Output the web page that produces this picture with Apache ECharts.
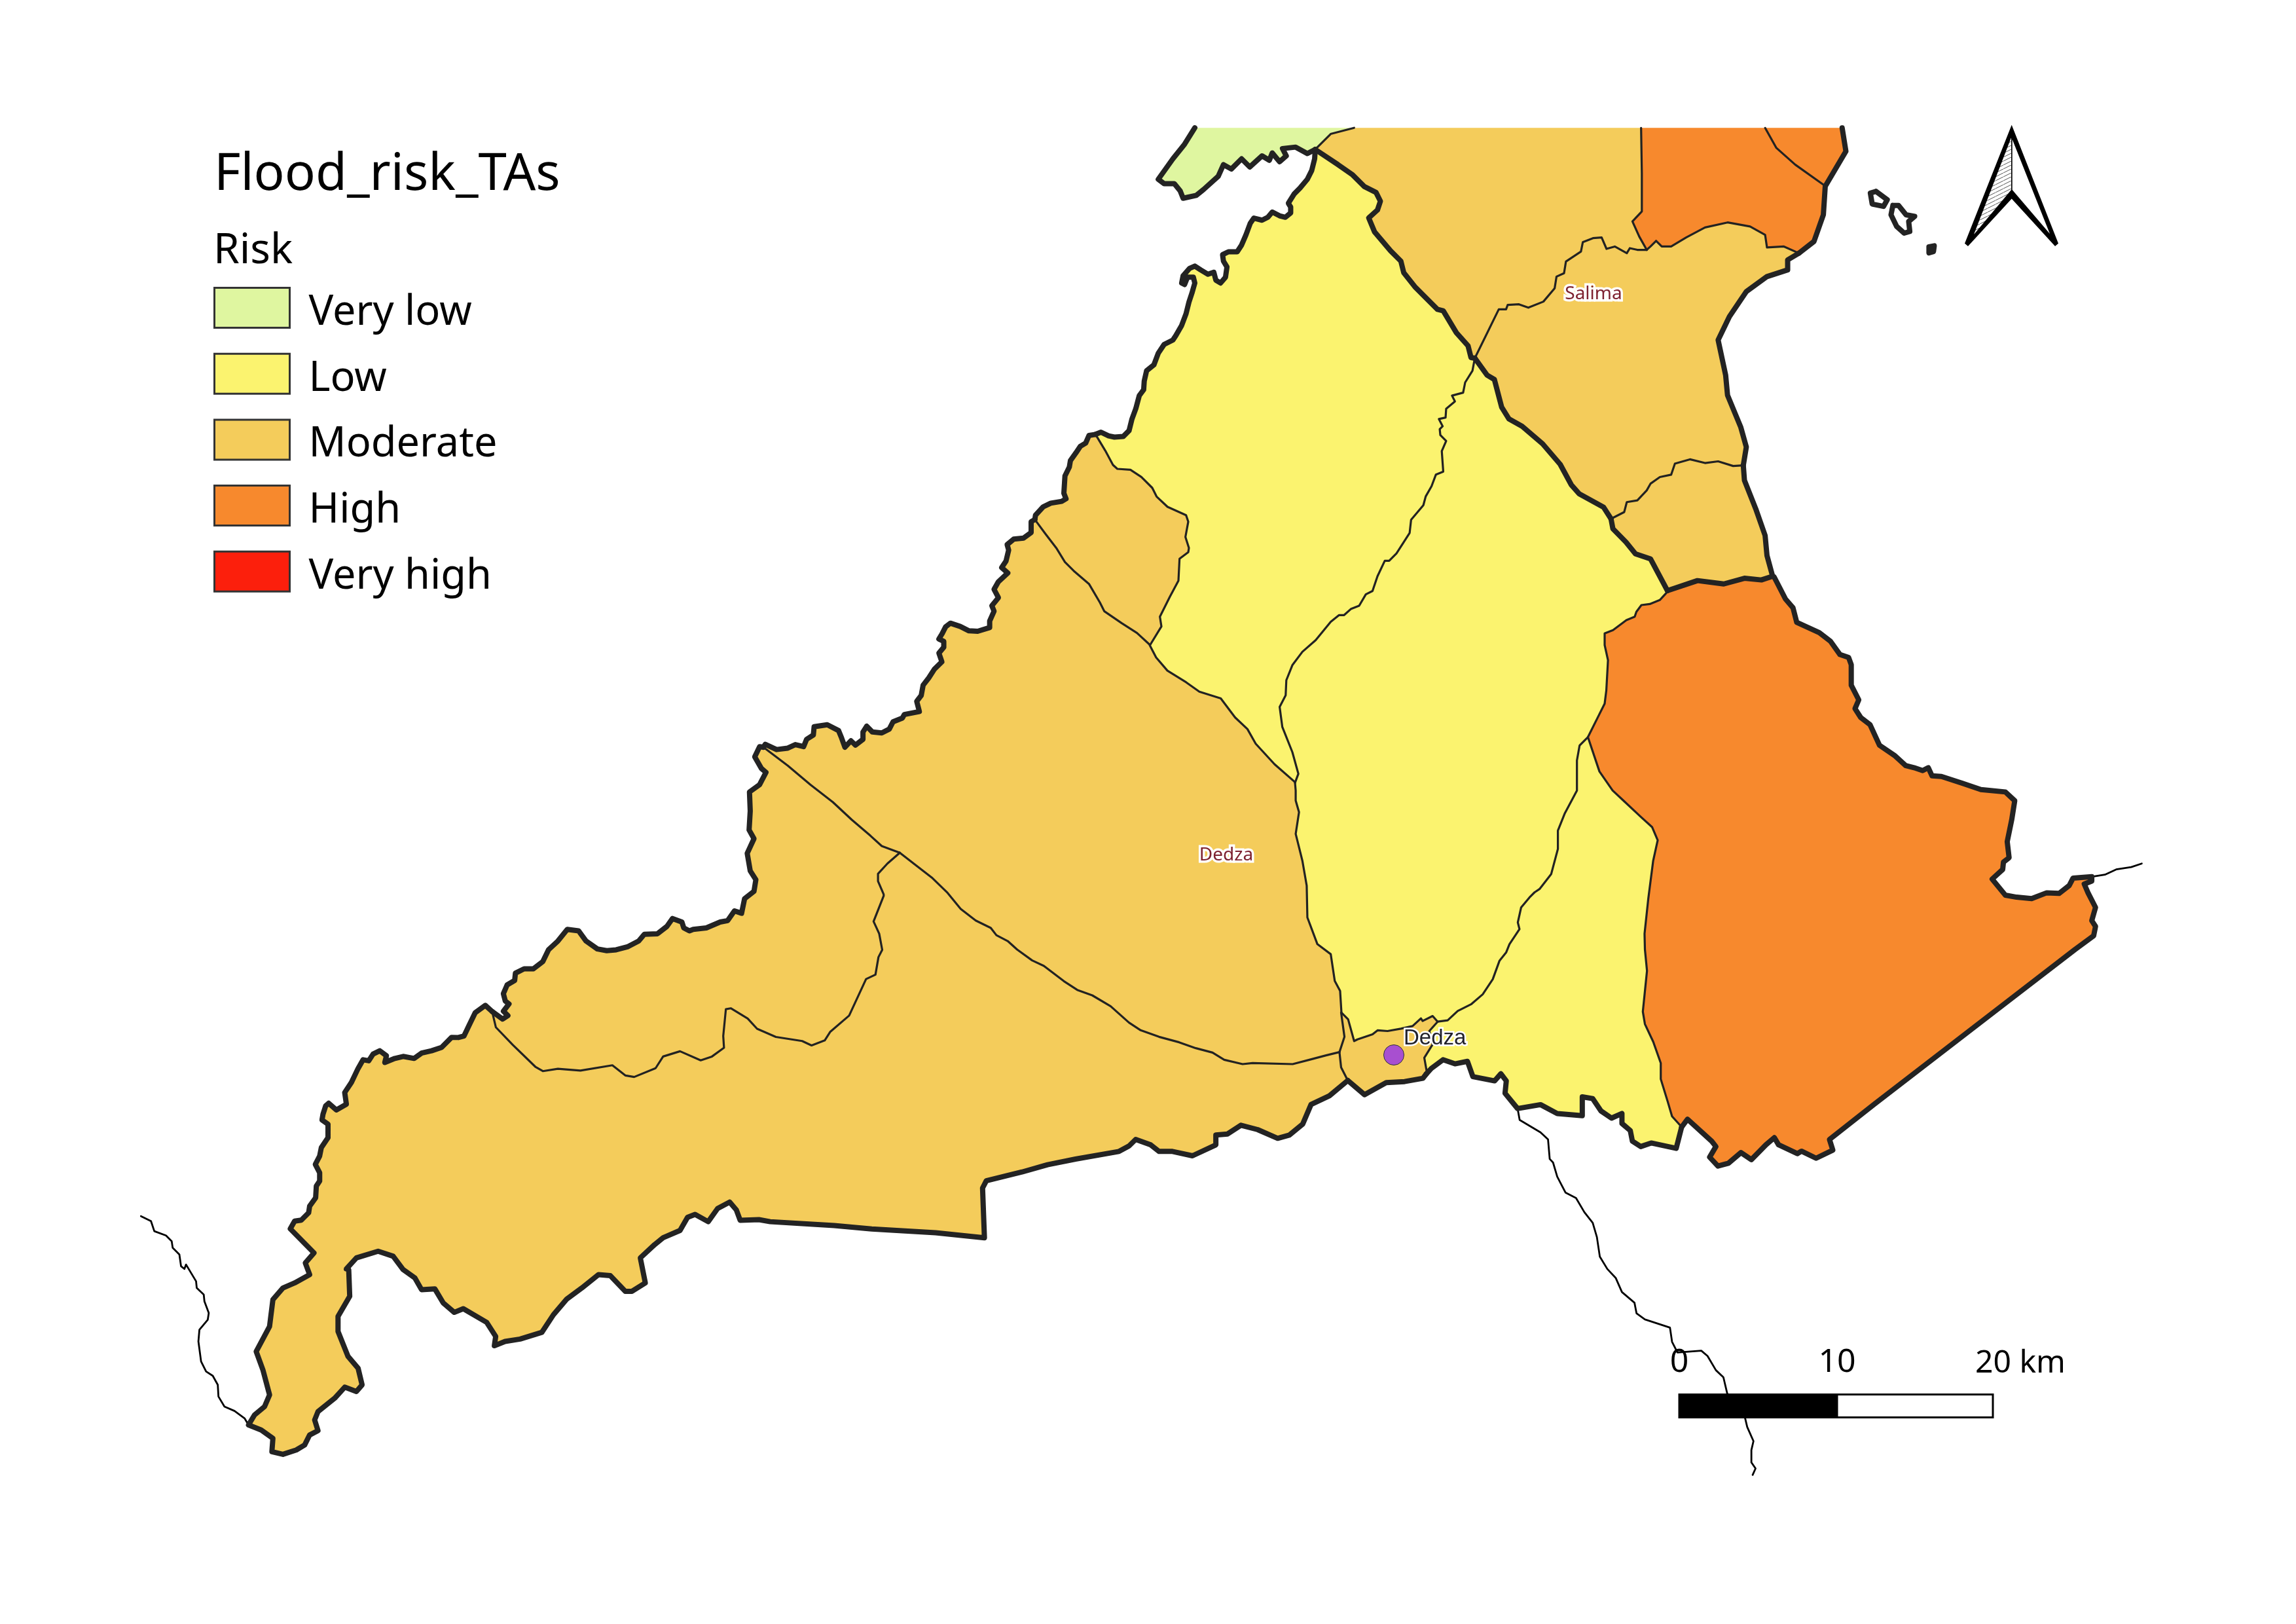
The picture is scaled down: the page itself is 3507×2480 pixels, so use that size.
<!DOCTYPE html>
<html><head><meta charset="utf-8">
<script src="https://cdn.jsdelivr.net/npm/echarts@6/dist/echarts.min.js"></script>
<style>html,body{margin:0;padding:0;background:#fff}#c{width:3507px;height:2480px}</style>
</head><body><div id="c"></div>
<script>
// ---- values ----
const riskLabels = ['Very low','Low','Moderate','High','Very high'];
const riskColors = ['#DFF6A0','#FBF36F','#F4CC5B','#F7892D','#FC1F0C'];
const regionNames = ['A','B','C','D','E','F','G','H','I','J','K','L','M','N'];
const regionRisk  = [1,3,4,3,3,2,3,2,2,4,3,3,3,3];
const placeNames = ['Salima','Dedza'];
const placeX = [2434,1873];
const placeY = [449,1306];
const townName = 'Dedza';
const townXY = [2129,1611];
const scaleTicks = ['0','10','20 km'];

// ---- map geometry (in sheet pixels) ----
const S = {
  a:[1700,180,2.24,2.24], b:[2300,180,1.742,1.96], c:[1100,850,1.742,2.24], d:[1900,850,1.96,1.96],
  e:[2400,850,1.742,2.24], f:[200,1500,1.96,1.96], g:[700,1350,1.742,2.24], h:[1500,1450,1.96,3],
  i:[2200,1450,1.568,1.8447], j:[1450,620,3,3]
};
const P = (k, f) => { const s=S[k], o=[]; for(let n=0;n<f.length;n+=2) o.push([s[0]+f[n]/s[2], s[1]+f[n+1]/s[3]]); return o; };
const R = a => a.slice().reverse();
const J = (...l) => [].concat(...l);

const greenCoast = P('a',[280,34,245,90,205,140,155,210,175,225,210,225,230,250,240,275,285,265,310,245,360,200,378,160,405,175,440,140,468,168,510,130,535,145,545,120,570,150,593,130,580,105,625,100,665,122,692,108]);
const coastA = J(P('a',[692,108,690,140,680,180,665,210,640,240,620,260,600,292,608,305,608,325,590,340,570,335,545,322,530,340,510,350,482,343,470,360,455,400,440,435,425,458,395,458,375,468,378,490,390,510,385,545,368,565,352,555,345,528,325,535,300,520,280,507,262,515,240,540,235,565,245,570,255,545,275,545,280,565,270,600,260,630,250,670,235,710,215,745,205,760,175,775,155,805,140,845,115,865,107,900,105,930,90,950,78,995,65,1030,55,1070,35,1090,5,1092]),
  P('j',[730,137,695,120,670,130]));
const coastB = P('j',[670,130,640,135,625,170,600,185,580,215,555,250,550,280,530,320,525,400,535,425,515,437,465,445,430,462,395,500,392,520]);
const coastC = J(P('j',[392,520,375,530,375,580,340,605,295,610,265,635,272,660,260,710,240,740,268,765,225,805,205,840,225,878,195,915,205,940,185,985,185,1015,130,1032,90,1030,50,1010,5,995]),
  P('c',[600,240,590,265,582,282,595,290,595,310,582,330,590,360,570,385,555,415,540,440,535,475,523,495,530,530,510,535,490,540,485,552,460,565,450,590,430,603,405,600,390,580,380,600,380,625,360,645,348,630,332,652,323,620,315,595,285,575,250,582,248,610,230,625,222,650,200,643,180,655,150,660,120,642,115,652]));
const coastD = J(P('c',[115,652,105,650,92,685,110,725,122,738,105,780,78,805,80,870,77,935,90,965,72,1015,80,1075,95,1105,90,1145,65,1170,57,1220,38,1212,20,1245,0,1250]),
  P('g',[660,150,625,155,615,160,600,150,595,130,570,118,555,145,530,170,495,172,480,195,450,215,420,225,395,228,370,222,340,195,320,160,290,155,265,195,240,225,225,265,200,290,175,290,152,305,150,330,130,345,120,375,125,400,135,410,120,435,132,450,118,462,100,445,90,436]));
const coastE = J(P('g',[90,436,72,415,45,440,30,480,15,520,0,525]),
  P('f',[960,165,930,195,900,205,870,212,848,228,815,222,790,228,760,240,765,220,745,205,725,215,712,235,695,232,680,258,660,300,640,330,645,365,615,382,592,362,583,370,575,395,572,412,590,425,590,465,570,495,565,520,552,545,565,570,565,595,555,610,553,645,535,670,532,690,510,712,490,715,477,738,548,810,522,840,535,875,490,900,455,915,425,950,415,1030,375,1105,395,1160,415,1235,400,1270,370,1295,352,1325,390,1340,425,1365,422,1405,455,1413,495,1400,520,1385,535,1355,560,1342,550,1310,560,1285,610,1245,640,1212,675,1225,692,1205,680,1155,650,1120,620,1045,620,1000,655,940,652,860,645,858,675,825,740,805,785,820,815,860,850,885,870,920,910,918,935,960,968,988,995,977,1065,1018,1092,1060,1088,1088,1120,1075,1165,1068,1230,1048,1265,995,1305,948,1350,915,1400,875,1435,878,1480,925,1500,925,1540,900,1525,825,1568,785]),
  P('g',[545,1210,590,1185,610,1140,630,1130,665,1155,690,1110,722,1088,740,1115,750,1150,800,1148,830,1155,1000,1168,1100,1180,1270,1193,1400,1210,1395,1040,1405,1015,1500,985,1568,960]),
  P('h',[280,960,410,925,440,900,460,870,505,895,530,925,570,925,630,945,700,895,700,850,735,845,775,805,825,825,885,865,920,850,960,800,985,710,1040,670,1095,600]));
const coastF = P('h',[1095,600,1145,665,1210,610,1265,605,1320,590,1330,570]);
const coastG = J(P('h',[1330,570,1345,545,1380,505]),
  P('i',[35,322,65,315,78,358,130,370,145,350,158,370,155,405,185,448,240,437,280,462,340,468,340,415,365,420,385,455,410,475,435,462,435,490,455,510,460,540,480,555,505,545,565,560,578,500]));
const coastH = J(P('i',[578,500,592,478,650,540,660,555,645,585,665,610,690,602,720,572,745,592,780,550,800,530,810,550,855,575,865,568,900,588,940,565,932,535,1040,435,1360,145,1520,0]),
  P('e',[1390,1297,1395,1265,1385,1245,1395,1200,1375,1150,1365,1120,1385,1110,1385,1095,1335,1100,1325,1125,1298,1152,1265,1150,1225,1170,1185,1165,1155,1158,1120,1103,1148,1070,1150,1045,1165,1030,1160,975,1172,900,1180,835,1155,805,1090,797,1040,775,985,752,960,750,950,722,935,732,912,722,890,715,860,680,820,645,795,575,770,550,755,520,765,490,745,440,745,370,738,345,715,335,690,290,660,260,600,225,590,175,570,145,540,70]));
const coastI = P('b',[710,1372,695,1310,690,1250,665,1170,635,1085,632,1040]);
const coastJ = P('b',[632,1040,640,985,625,925,590,830,585,770,565,665,595,595,640,520,695,475,750,455,750,425,780,405]);
const coastK = P('b',[780,405,820,370,845,290,850,205,905,100,895,30]);
const T2a = P('a',[692,108,770,160,820,195,860,235,900,255,915,285,905,315,875,342,895,390,950,455,985,490,995,530,1035,580,1110,655,1130,660,1175,735,1215,780,1225,820,1238,822]);
const T2b = J(P('a',[1238,822,1280,880,1305,895,1330,990,1355,1030,1400,1055,1470,1115,1530,1185,1568,1255]),
  P('b',[195,1125,260,1165,280,1200]));
const T2c = P('b',[280,1200,285,1230,320,1270,345,1305,385,1320,430,1415]);
const T3 = P('b',[430,1415,510,1385,580,1395,635,1378,680,1383,710,1372]);
// thin boundaries
const tGreen = P('a',[692,108,745,55,825,34]);
const tM1O1 = P('b',[360,30,362,165,362,280,337,310,355,355,375,395]);
const tM1M2 = J(P('b',[375,395,350,395,330,390,322,405,290,385,268,392,255,358,232,360,205,372,200,400,160,430,155,465,135,475,130,510,100,550,60,568,35,558,5,560]),
  P('a',[1345,655,1320,655,1238,822]));
const tO1M2 = P('b',[780,405,740,385,695,388,690,350,650,325,590,313,530,328,480,358,440,385,415,385,400,368,385,385,375,395]);
const tOrangeInner = P('b',[690,30,720,90,770,140,845,200]);
const tM2M3 = P('b',[280,1200,315,1180,322,1150,350,1145,375,1115,385,1095,410,1075,440,1068,450,1035,490,1022,530,1033,565,1028,605,1042,632,1040]);
const tL1N = P('j',[670,130,715,205,750,270,770,288,830,292,880,325,930,375,950,415,1000,462,1085,500,1095,530,1082,600,1098,650,1095,670,1055,700,1050,800,1010,875,965,965,972,1010,920,1095]);
const tJmJc = P('j',[392,520,440,585,490,650,530,715,570,755,640,815,690,900,710,940,790,995,860,1040,920,1095]);
const tJcJd = P('c',[1143,303,1160,345,1190,390,1240,430,1275,462,1332,485,1370,550,1403,590,1425,640,1475,710,1530,772]);
const tL1L2 = J(P('a',[1238,822,1230,865,1205,905,1198,940,1160,950,1170,970,1140,995,1138,1025,1115,1030,1128,1055,1118,1065,1120,1085,1140,1105,1125,1140,1130,1210,1105,1220,1090,1260,1070,1295,1062,1325,1020,1375,1015,1420,970,1490,945,1515,930,1515,905,1568]),
  P('d',[385,103,365,113,345,147,320,157,300,175,285,175,260,195,215,250,175,285,145,325,127,370,125,415,107,450,115,510,145,585,163,650,153,677]));
const tJsJl = P('d',[1268,105,1245,130,1215,142,1190,145,1175,165,1170,180,1145,190,1105,220,1080,230,1080,265,1090,310,1085,400,1080,440,1060,480,1030,540]);
const tL2L3 = P('d',[1030,540,1005,565,997,610,997,700,960,770,940,820,940,875,920,950,885,995,870,1005,855,1020,830,1050,820,1095,825,1115,795,1160,785,1185,765,1210,745,1265,715,1310,680,1340,640,1360,610,1388,580,1392]);
const tTownTop = P('d',[580,1392,565,1375,535,1390,530,1382,505,1405,470,1413,430,1420,400,1418,385,1430,340,1445,330,1450,312,1385,292,1365]);
const tL2W = P('d',[153,677,155,700,155,730,165,765,155,830,175,910,188,985,190,1080,220,1160,260,1190,272,1270,288,1300,292,1365]);
const tTownE = P('d',[580,1392,555,1420,565,1460,540,1500,548,1545]);
const tTownW1 = P('h',[1075,289,1085,400,1070,470]);
const tTownW2 = P('h',[1070,470,1075,540,1095,600]);
const tM5S = J(P('h',[1070,470,1030,485,980,505,930,525,810,520,780,525,725,505,690,472,640,452,590,425,530,400,475,370,440,335,385,260,330,210,285,185,245,145,185,75,150,50,105,0]),
  P('c',[765,1315,735,1295,720,1270,680,1245,640,1205,605,1150,565,1100,515,1050,478,1013]));
const tJyJw = P('c',[478,1013,430,990,400,955,350,900,300,840,240,780,180,715,115,652]);
const tJ8Jy = J(P('g',[90,436,100,490,145,550,205,625,225,640,265,632,325,638,410,620,445,655,468,660,525,630,545,590,590,572,645,603,675,590,707,560,705,520,712,428,725,425,770,460,795,495,845,523,915,537,940,552,975,535,990,505,1040,450,1085,325,1110,310,1118,250,1128,225,1120,170,1105,128,1132,40]),
  P('c',[435,1155,420,1110,420,1085,445,1050,478,1013]));
const tLO = J(P('e',[45,620,75,735,110,800,135,830,185,890,215,925,230,970,218,1040,205,1170,195,1290,196,1344]),
  P('i',[495,60,485,175,490,210,510,260,528,320,528,365,545,430,555,470,578,500]));
// drainage lines beyond the districts
const riverW = P('f',[30,700,60,715,70,745,105,758,122,775,125,795,145,815,150,850,160,858,165,845,195,895,197,915,218,935,220,955,233,990,230,1010,205,1040,202,1075,210,1135,225,1165,245,1178,260,1205,262,1240,280,1270,310,1283,340,1305,352,1325]);
const riverE = P('e',[1385,1095,1420,1088,1450,1070,1490,1062,1518,1050]);
const riverS = P('i',[185,448,190,480,240,515,258,535,262,590,270,600,280,640,300,685,325,700,345,740,365,770,375,810,382,865,400,900,420,925,435,965,465,995,470,1025,490,1042,550,1065,555,1105,568,1135,625,1130,640,1145,660,1185,678,1205,687,1250,700,1290,730,1320,735,1345,750,1385,745,1410,745,1445,755,1462,748,1480]);
const islands = [
  P('b',[985,220,1015,245,1005,265,975,258,970,225,985,220]),
  P('b',[1030,262,1045,262,1065,290,1088,295,1072,310,1075,340,1060,345,1040,325,1025,290,1030,262]),
  P('b',[1126,386,1140,383,1138,400,1126,404,1126,386])
];

const rings = {
  A: J(greenCoast, tGreen),
  B: J(tGreen, tM1O1, tM1M2, R(T2a)),
  C: J(tM1O1, R(tO1M2), coastK),
  D: J(tM1M2, T2b, tM2M3, coastJ, tO1M2),
  E: J(tM2M3, R(coastI), R(T3), R(T2c)),
  F: J(coastA, tL1N, tJcJd, R(tL1L2), R(T2a)),
  G: J(coastB, tJmJc, R(tL1N)),
  H: J(T2b, T2c, tJsJl, tL2L3, tTownTop, R(tL2W), R(tL1L2)),
  I: J(tL2L3, tTownE, coastG, R(tLO)),
  J: J(coastH, R(T3), tJsJl, tLO),
  K: J(R(tTownTop), tTownE, R(coastF), R(tTownW2), R(tTownW1)),
  L: J(coastC, R(tJyJw), R(tM5S), R(tTownW1), R(tL2W), R(tJcJd), R(tJmJc)),
  M: J(coastD, tJ8Jy, tJyJw),
  N: J(coastE, R(tTownW2), tM5S, R(tJ8Jy))
};
const flip = a => a.map(p => [p[0], -p[1]]);
echarts.registerMap('risk', { type:'FeatureCollection', features: regionNames.map(n => ({
  type:'Feature', properties:{name:n},
  geometry:{type:'Polygon', coordinates:[flip(J(rings[n], [rings[n][0]]))]}
}))});

const thick = [greenCoast,coastA,coastB,coastC,coastD,coastE,coastF,coastG,coastH,coastI,coastJ,coastK,T2a,T2b,T2c,T3].concat(islands);
const thin = [tGreen,tM1O1,tM1M2,tO1M2,tOrangeInner,tM2M3,tL1N,tJmJc,tJcJd,tL1L2,tJsJl,tL2L3,tTownTop,tL2W,tTownE,tTownW1,tTownW2,tM5S,tJyJw,tJ8Jy,tLO];
const rivers = [riverW,riverE,riverS];
const lineSeries = (list, width, color, z) => ({
  type:'lines', coordinateSystem:'geo', polyline:true, silent:true, z,
  lineStyle:{width, color, opacity:1, curveness:0, cap:'round', join:'round'},
  data:list.map(c => ({coords:flip(c)}))
});

const hatch = document.createElement('canvas'); hatch.width=12; hatch.height=6;
(()=>{const g=hatch.getContext('2d'); g.fillStyle='#fff'; g.fillRect(0,0,12,6); g.strokeStyle='#555'; g.lineWidth=1;
  g.beginPath(); g.moveTo(0,6); g.lineTo(12,0); g.stroke();})();

const font = '"Noto Sans"';
const chart = echarts.init(document.getElementById('c'), null, {renderer:'canvas', width:3507, height:2480});
chart.setOption({
  animation:false, backgroundColor:'#fff',
  title:[
    {text:'Flood_risk_TAs', left:327, top:229, padding:0, textStyle:{fontFamily:font, fontWeight:'normal', fontSize:78, color:'#000'}},
    {text:'Risk', left:326, top:352, padding:0, textStyle:{fontFamily:font, fontWeight:'normal', fontSize:64, color:'#000'}}
  ],
  legend:{
    left:326, top:438, orient:'vertical', padding:0, itemWidth:115, itemHeight:61, itemGap:29.2,
    icon:'rect', selectedMode:false, data:riskLabels,
    itemStyle:{borderColor:'#333', borderWidth:3, opacity:1},
    formatter:'{a|{name}}',
    textStyle:{fontFamily:font, fontSize:63, color:'#000', rich:{a:{fontFamily:font, fontSize:63, color:'#000', padding:[16,0,0,24]}}}
  },
  visualMap:{show:false, type:'piecewise', seriesIndex:0,
    pieces:riskLabels.map((l,i)=>({value:i+1,label:l,color:riskColors[i]}))},
  geo:{map:'risk', roam:false, silent:true, aspectScale:1,
    boundingCoords:[[0,0],[3507,-2480]], layoutCenter:['50%','50%'], layoutSize:3507,
    label:{show:false}, emphasis:{disabled:true}, select:{disabled:true},
    itemStyle:{borderWidth:0, borderColor:'transparent', areaColor:'#fff'}},
  series:[
    {type:'map', geoIndex:0, silent:true, data:regionNames.map((n,i)=>({name:n,value:regionRisk[i]}))},
    lineSeries(rivers,2.8,'#000',3),
    lineSeries(thin,3.2,'#222',4),
    lineSeries(thick,8,'#232323',5),
    ...riskLabels.map((l,i)=>({type:'scatter',coordinateSystem:'geo',name:l,data:[],itemStyle:{color:riskColors[i],opacity:1}})),
    {type:'scatter',coordinateSystem:'geo',silent:true,z:8,symbolSize:1,itemStyle:{color:'rgba(0,0,0,0)',opacity:1},
      data:placeNames.map((n,i)=>({name:n,value:[placeX[i],-placeY[i]]})),
      label:{show:true,position:'inside',formatter:'{b}',fontFamily:font,fontSize:28,color:'#7E2230',textBorderColor:'#fff',textBorderWidth:7,opacity:1}},
    {type:'scatter',coordinateSystem:'geo',silent:true,z:9,symbolSize:31,
      itemStyle:{color:'#A84FD0',borderColor:'#333',borderWidth:1,opacity:1},
      data:[{name:townName,value:[townXY[0],-townXY[1]]}],
      label:{show:true,position:'right',offset:[-6,-25],formatter:'{b}',fontFamily:'"Liberation Sans"',fontSize:33,color:'#22222B',textBorderColor:'#fff',textBorderWidth:5,opacity:1}}
  ],
  graphic:[
    {type:'rect',z:20,shape:{x:2563.5,y:2128,width:242.5,height:38},style:{fill:'#000'}},
    {type:'rect',z:20,shape:{x:2806,y:2129.5,width:238,height:35},style:{fill:'#fff',stroke:'#000',lineWidth:3}},
    {type:'text',z:21,style:{x:2565,y:2106,text:scaleTicks[0],align:'center',verticalAlign:'bottom',fontFamily:font,fontSize:50,fill:'#000'}},
    {type:'text',z:21,style:{x:2806,y:2106,text:scaleTicks[1],align:'center',verticalAlign:'bottom',fontFamily:font,fontSize:50,fill:'#000'}},
    {type:'text',z:21,style:{x:3017,y:2106,text:scaleTicks[2],align:'left',verticalAlign:'bottom',fontFamily:font,fontSize:48,fill:'#000'}},
    {type:'polygon',z:20,shape:{points:[[3072.7,190.7],[3144,371.7],[3139,376],[3072.7,303.5],[3006,376],[3001,371.7]]},style:{fill:'#000'}},
    {type:'polygon',z:21,shape:{points:[[3073.7,213],[3131,357],[3073.7,290]]},style:{fill:'#fff'}},
    {type:'polygon',z:21,shape:{points:[[3072,210],[3015,358],[3072,290]]},style:{fill:{image:hatch,repeat:'repeat'},stroke:null}}
  ]
});
</script></body></html>
